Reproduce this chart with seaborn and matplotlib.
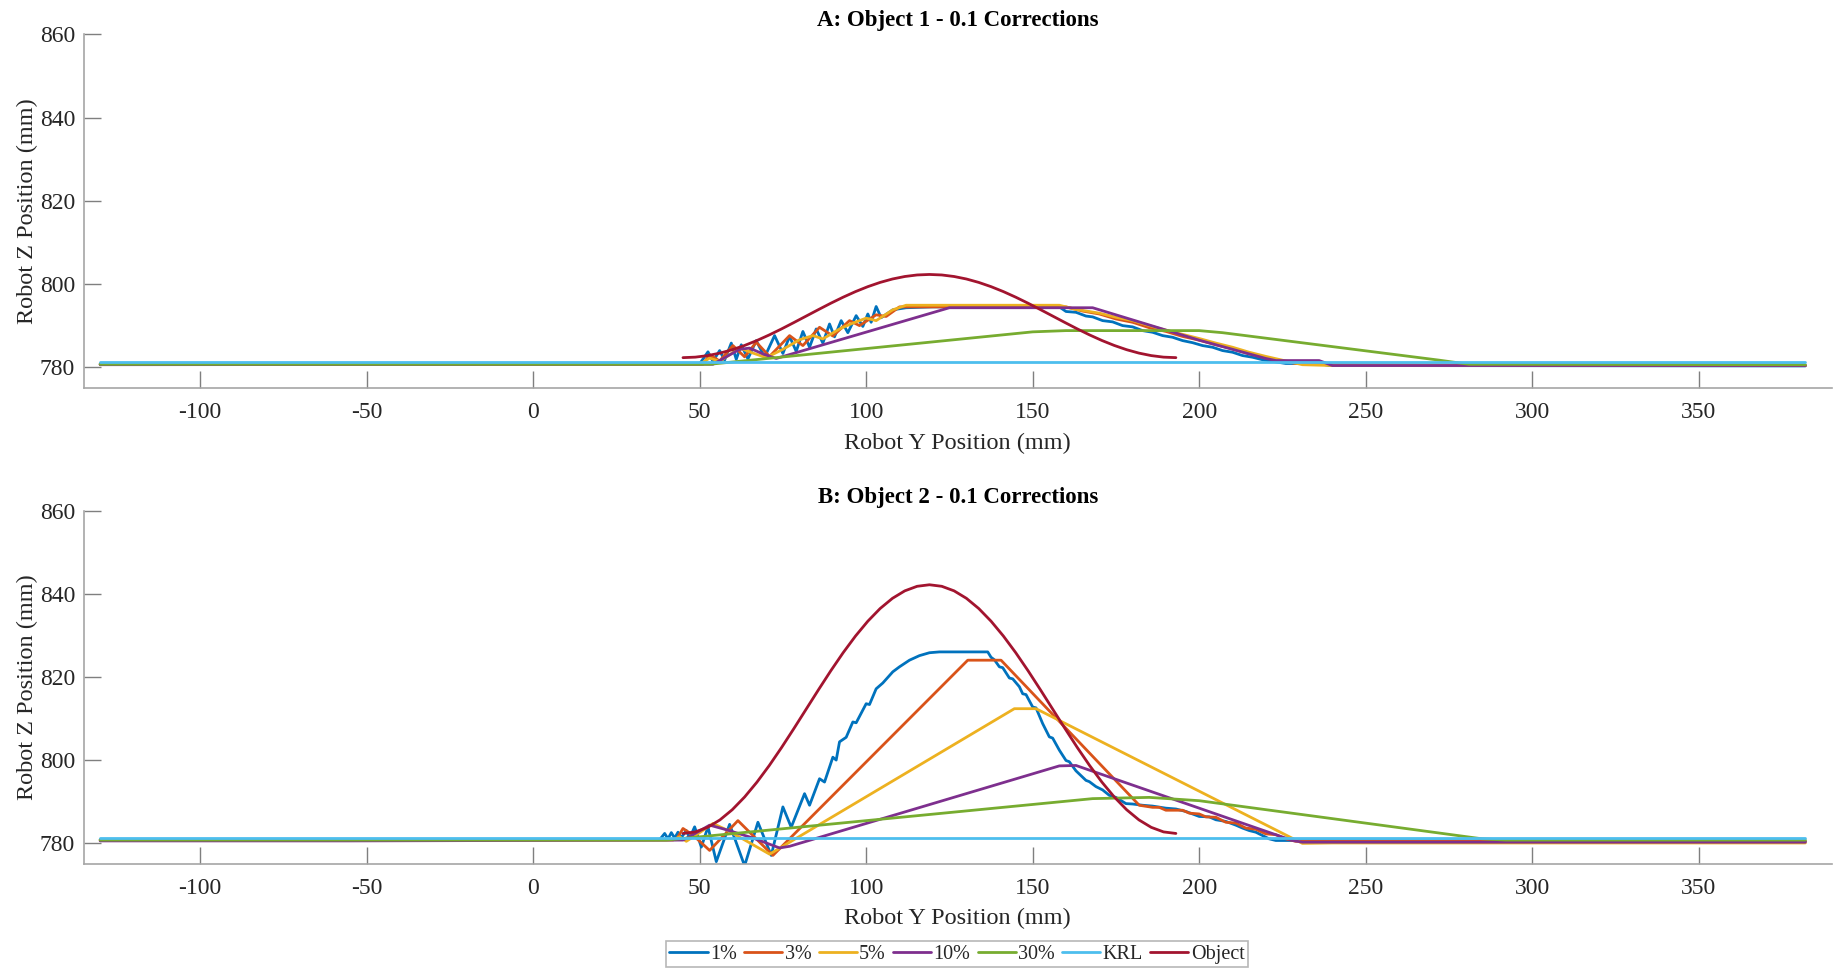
import matplotlib
matplotlib.use("Agg")
import matplotlib.pyplot as plt
from matplotlib.lines import Line2D
import seaborn as sns

# Legend entries and MATLAB-style line colours
SERIES = ["1%", "3%", "5%", "10%", "30%", "KRL", "Object"]
COLORS = ["#0072BD", "#D95319", "#EDB120", "#7E2F8E", "#77AC30", "#4DBEEE", "#A2142F"]

X_TICKS = [-100, -50, 0, 50, 100, 150, 200, 250, 300, 350]
Z_TICKS = [780, 800, 820, 840, 860]

# Object profile: robot Y positions shared by both objects
OBJECT_Y = [45, 48.7, 52.4, 56.1, 59.8, 63.5, 67.2, 70.9, 74.6, 78.3, 82, 85.7, 89.4,
            93.1, 96.8, 100.5, 104.2, 107.9, 111.6, 115.3, 119, 122.7, 126.4, 130.1,
            133.8, 137.5, 141.2, 144.9, 148.6, 152.3, 156, 159.7, 163.4, 167.1, 170.8,
            174.5, 178.2, 181.9, 185.6, 189.3, 193]
OBJECT1_Z = [782.3, 782.42, 782.79, 783.39, 784.21, 785.23, 786.42, 787.76, 789.21, 790.74,
             792.3, 793.86, 795.39, 796.84, 798.18, 799.37, 800.39, 801.21, 801.81, 802.18,
             802.3, 802.18, 801.81, 801.21, 800.39, 799.37, 798.18, 796.84, 795.39, 793.86,
             792.3, 790.74, 789.21, 787.76, 786.42, 785.23, 784.21, 783.39, 782.79, 782.42,
             782.3]
OBJECT2_Z = [782.3, 782.67, 783.77, 785.57, 788.03, 791.09, 794.67, 798.68, 803.03, 807.61,
             812.3, 816.99, 821.57, 825.92, 829.93, 833.51, 836.57, 839.03, 840.83, 841.93,
             842.3, 841.93, 840.83, 839.03, 836.57, 833.51, 829.93, 825.92, 821.57, 816.99,
             812.3, 807.61, 803.03, 798.68, 794.67, 791.09, 788.03, 785.57, 783.77, 782.67,
             782.3]

# ---- Object 1: robot (Y, Z) paths for each correction gain ----
A_1PCT = [(-130, 780.8), (50, 780.8), (52.5, 783.7), (54, 781.4), (56, 784.0), (57.5, 781.7),
          (59.5, 785.8), (61, 781.9), (62.5, 785.4), (64.5, 782.0), (67, 786.4), (69.5, 782.4),
          (72.5, 787.6), (75, 783.3), (77, 787.4), (79, 783.8), (81, 788.6), (83, 784.8),
          (85, 789.2), (87, 785.8), (89, 790.4), (90.5, 787.3), (92.5, 791.2), (94.5, 788.3),
          (97, 792.4), (99, 789.8), (100.5, 792.8), (101.5, 790.8), (103, 794.6), (104.5, 791.9),
          (108, 793.8), (112, 794.3), (120, 794.5), (158, 794.5), (160, 793.4), (163, 793.2),
          (166, 792.3), (168, 792.1), (171, 791.2), (174, 790.9), (177, 790.0), (180, 789.7),
          (183, 788.8), (186, 788.4), (189, 787.6), (192, 787.2), (195, 786.4), (198, 785.9),
          (201, 785.2), (204, 784.8), (207, 784.0), (210, 783.6), (213, 782.8), (216, 782.4),
          (219, 781.8), (222, 781.4), (226, 780.9), (236, 780.9), (239, 780.4), (382, 780.3)]
A_3PCT = [(-130, 780.7), (51, 780.7), (53, 783.0), (56, 781.5), (60, 785.2), (63.5, 782.5),
          (67, 786.0), (71, 782.6), (77, 787.6), (81, 785.2), (86, 789.6), (90, 787.5),
          (95, 791.2), (98, 790.0), (103, 792.6), (106, 792.2), (110, 794.5), (160, 794.5),
          (165, 793.5), (170, 792.8), (175, 791.6), (180, 790.8), (185, 789.5), (190, 788.6),
          (195, 787.4), (200, 786.5), (205, 785.4), (210, 784.4), (215, 783.2), (220, 782.3),
          (225, 781.5), (229, 780.9), (240, 780.6), (382, 780.4)]
A_5PCT = [(-130, 780.7), (50, 780.7), (53, 782.2), (56, 781.4), (62, 784.6), (66, 783.4),
          (70, 782.3), (75, 784.3), (80, 786.6), (84, 787.6), (87, 786.8), (92, 789.2),
          (96, 790.6), (100, 791.8), (103, 791.2), (108, 793.8), (112, 794.9), (158, 794.9),
          (163, 793.9), (170, 793.0), (175, 792.0), (180, 791.2), (185, 790.0), (190, 788.9),
          (195, 787.9), (200, 786.9), (205, 785.8), (210, 784.8), (215, 783.6), (220, 782.6),
          (226, 781.5), (231, 780.6), (240, 780.4), (382, 780.4)]
A_10PCT = [(-130, 780.6), (54, 780.7), (58, 782.5), (62, 784.3), (65, 784.6), (69, 783.2),
           (73, 782.1), (125, 794.3), (168, 794.3), (200, 786.5), (220, 782.1), (223, 781.6),
           (236, 781.6), (240, 780.4), (382, 780.4)]
A_30PCT = [(-130, 780.7), (53, 780.7), (150, 788.5), (160, 788.8), (200, 788.8), (207, 788.3),
           (272, 781.7), (281, 780.7), (382, 780.6)]
A_KRL = [(-130, 781.3), (382, 781.3)]

# ---- Object 2 ----
B_1PCT = [(-130, 780.8), (38, 780.8), (39.5, 782.3), (40.5, 781.0), (41.5, 782.5), (42.5, 781.2),
          (43.5, 782.6), (44.5, 781.3), (46, 783.0), (47, 781.2), (48.5, 783.9), (50.5, 779.0),
          (52.5, 783.9), (55, 775.5), (59, 784.5), (63.5, 774.5), (67.5, 785.0), (71.5, 777.0),
          (75, 788.7), (77.5, 783.8), (81.5, 791.9), (83, 789.1), (86, 795.5), (87.5, 794.7),
          (90, 800.7), (91, 800.0), (92, 804.4), (94, 805.5), (96, 809.2), (97, 809.0),
          (100, 813.6), (101, 813.4), (103, 817.2), (105, 818.6), (108, 821.3), (110, 822.5),
          (113, 824.1), (116, 825.2), (119, 825.9), (122, 826.1), (136.5, 826.1), (137.5, 824.8),
          (138.5, 824.2), (140, 822.5), (141, 822.3), (143, 819.8), (144, 819.6), (146, 817.7),
          (147, 816.0), (148, 815.8), (150, 812.8), (151, 812.6), (153, 808.8), (155, 805.6),
          (156, 805.3), (158, 802.4), (160, 799.9), (161, 799.6), (163, 797.4), (166, 795.1),
          (167, 794.8), (169, 793.6), (171, 792.8), (173, 791.5), (175, 791.0), (178, 789.5),
          (180, 789.4), (183, 789.1), (186, 788.9), (190, 788.4), (193, 788.2), (196, 787.6),
          (198, 787.0), (200, 786.4), (203, 786.3), (205, 785.6), (208, 785.2), (211, 784.3),
          (213, 783.6), (215, 783.0), (217, 782.6), (219, 781.8), (221, 781.0), (223, 780.6),
          (382, 780.4)]
B_3PCT = [(-130, 780.7), (43, 780.8), (45, 783.5), (48, 781.9), (53, 778.2), (61.5, 785.4),
          (72, 777.0), (130.5, 824.1), (140.5, 824.1), (182, 789.1), (186, 788.6), (188, 788.6),
          (190, 787.9), (195, 787.9), (197, 787.2), (200, 787.0), (202, 786.3), (205, 786.2),
          (208, 785.0), (211, 784.8), (214, 783.6), (217, 783.3), (220, 782.2), (223, 782.0),
          (226, 781.0), (229, 780.4), (382, 780.4)]
B_5PCT = [(-130, 780.7), (42, 780.7), (44, 781.5), (46, 780.4), (50, 782.5), (54, 784.7),
          (58, 783.2), (64, 780.5), (71, 777.3), (144.5, 812.4), (151, 812.4), (231, 779.9),
          (240, 780.0), (382, 780.0)]
B_10PCT = [(-130, 780.5), (-55, 780.5), (45, 780.7), (48, 782.0), (53, 784.3), (58, 783.2),
           (66, 781.2), (74, 778.8), (77, 779.2), (158, 798.6), (163, 798.7), (228, 780.6),
           (231, 780.2), (382, 780.2)]
B_30PCT = [(-130, 780.7), (40, 780.7), (168, 790.7), (185, 791.0), (200, 790.2), (285, 781.0),
           (292, 780.7), (382, 780.7)]
B_KRL = [(-130, 781.2), (382, 781.2)]

PANELS = [
    ("A: Object 1 - 0.1 Corrections",
     [A_1PCT, A_3PCT, A_5PCT, A_10PCT, A_30PCT, A_KRL, list(zip(OBJECT_Y, OBJECT1_Z))]),
    ("B: Object 2 - 0.1 Corrections",
     [B_1PCT, B_3PCT, B_5PCT, B_10PCT, B_30PCT, B_KRL, list(zip(OBJECT_Y, OBJECT2_Z))]),
]

sns.set_style("ticks")
plt.rcParams["font.family"] = ["Liberation Serif", "DejaVu Serif"]

W, H = 1835, 969
fig = plt.figure(figsize=(W / 100, H / 100), dpi=100)
left, right = 83.5, 1832
boxes = [(34.5, 388), (511.4, 863.7)]

AXIS_GRAY = "#a6a6a6"
TEXT = "#262626"

for (top, bottom), (title, paths) in zip(boxes, PANELS):
    ax = fig.add_axes([left / W, 1 - bottom / H, (right - left) / W, (bottom - top) / H])
    for name, color, pts in zip(SERIES, COLORS, paths):
        ys = [p[0] for p in pts]
        zs = [p[1] for p in pts]
        sns.lineplot(x=ys, y=zs, ax=ax, color=color, linewidth=2.0, sort=False,
                     estimator=None, legend=False)
    ax.set_xlim(-135, 390)
    ax.set_ylim(775, 860)
    ax.set_xticks(X_TICKS)
    ax.set_yticks(Z_TICKS)
    ax.set_xticklabels([str(t) for t in X_TICKS])
    ax.tick_params(direction="in", length=12.5, width=1.0, color="#7f7f7f",
                   labelsize=17, labelcolor=TEXT)
    ax.tick_params(axis="x", pad=10)
    ax.tick_params(axis="y", pad=6)
    for side in ("top", "right"):
        ax.spines[side].set_visible(False)
    for side in ("left", "bottom"):
        ax.spines[side].set_color(AXIS_GRAY)
        ax.spines[side].set_linewidth(1.2)
    ax.set_xlabel("Robot Y Position (mm)", fontsize=17.5, color=TEXT, labelpad=7)
    ax.set_ylabel("Robot Z Position (mm)", fontsize=17.5, color=TEXT, labelpad=1)
    ax.set_title(title, fontsize=16.5, fontweight="bold", color="black", pad=6)

handles = [Line2D([], [], color=c, linewidth=2.0) for c in COLORS]
leg = fig.legend(handles, SERIES, loc="center", bbox_to_anchor=(957 / W, 1 - 954 / H),
                 ncol=7, frameon=True, fancybox=False, fontsize=14.5, handlelength=1.9,
                 handletextpad=0.12, columnspacing=0.35, borderpad=0.15, borderaxespad=0)
leg.get_frame().set_edgecolor(AXIS_GRAY)
leg.get_frame().set_linewidth(1.2)
for t in leg.get_texts():
    t.set_color(TEXT)

fig.savefig("out.png", dpi=100, facecolor="white")
